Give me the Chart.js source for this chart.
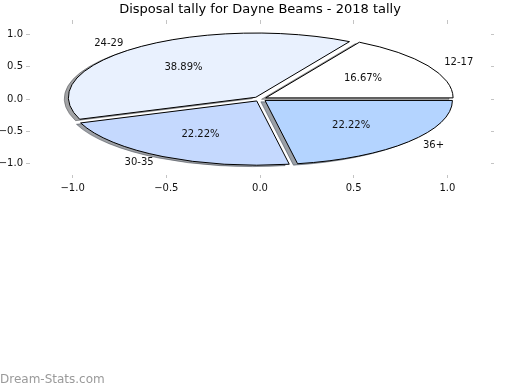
<!DOCTYPE html>
<html lang="en">
<head>
<meta charset="UTF-8">
<title>Disposal tally for Dayne Beams</title>
<script src="https://cdn.jsdelivr.net/npm/chart.js@4.4.1/dist/chart.umd.min.js"></script>
<style>
  body { margin: 0; background: #ffffff; }
</style>
</head>
<body>
<canvas id="chartPie" width="520" height="390"></canvas>
<script>
  // data
  var ageGroups = ["12-17", "24-29", "30-35", "36+"];
  var disposalCounts = [3, 7, 4, 4];
  var xTickValues = [-1, -0.5, 0, 0.5, 1];
  var yTickValues = [-1, -0.5, 0, 0.5, 1];

  // styles
  var sliceColours = ["#ffffff", "#e9f1fe", "#c5d9fe", "#b4d4ff"];
  var explode = 0.035;
  var shadowOff = -0.022;
  var baseFont = '"DejaVu Sans", Verdana, sans-serif';

  function tickText(v) {
    return (v < 0 ? "\u2212" : "") + Math.abs(v).toFixed(1);
  }

  function rgbOf(hex) {
    var n = parseInt(hex.slice(1), 16);
    return [(n >> 16) & 255, (n >> 8) & 255, n & 255];
  }

  // ellipse wedge, centre and angles in data units
  function wedgePath(ctx, xs, ys, cx, cy, a0, a1) {
    var px = xs.getPixelForValue(cx), py = ys.getPixelForValue(cy);
    var rx = xs.getPixelForValue(cx + 1) - px;
    var ry = py - ys.getPixelForValue(cy + 1);
    ctx.beginPath();
    ctx.moveTo(px, py);
    ctx.ellipse(px, py, rx, ry, 0, -a0, -a1, true);
    ctx.closePath();
  }

  function sliceList() {
    var total = disposalCounts.reduce(function (a, b) { return a + b; }, 0);
    var start = 0, out = [];
    for (var i = 0; i < disposalCounts.length; i++) {
      var frac = disposalCounts[i] / total;
      var a0 = start * 2 * Math.PI, a1 = (start + frac) * 2 * Math.PI;
      var mid = (a0 + a1) / 2;
      out.push({
        a0: a0, a1: a1, mid: mid, frac: frac,
        cx: explode * Math.cos(mid), cy: explode * Math.sin(mid)
      });
      start += frac;
    }
    return out;
  }

  const piePlugin = {
    id: "ellipsePie",
    afterDatasetsDraw(chart) {
      var ctx = chart.ctx, xs = chart.scales.x, ys = chart.scales.y;
      var s = sliceList();
      ctx.save();
      ctx.lineWidth = 1;
      ctx.lineJoin = "miter";
      // shadows first, under every wedge
      s.forEach(function (w, i) {
        var c = rgbOf(sliceColours[i]).map(function (k) { return Math.round(k * 0.3); });
        var col = "rgba(" + c.join(",") + ",0.5)";
        wedgePath(ctx, xs, ys, w.cx + shadowOff, w.cy + shadowOff, w.a0, w.a1);
        ctx.fillStyle = col;
        ctx.fill();
        ctx.strokeStyle = col;
        ctx.stroke();
      });
      s.forEach(function (w, i) {
        wedgePath(ctx, xs, ys, w.cx, w.cy, w.a0, w.a1);
        ctx.fillStyle = sliceColours[i];
        ctx.fill();
        ctx.strokeStyle = "#000000";
        ctx.stroke();
      });
      // labels and percentages
      ctx.font = "10px " + baseFont;
      ctx.fillStyle = "#111111";
      ctx.textBaseline = "middle";
      s.forEach(function (w, i) {
        var lx = w.cx + 1.1 * Math.cos(w.mid), ly = w.cy + 1.1 * Math.sin(w.mid);
        ctx.textAlign = lx > 0 ? "left" : "right";
        ctx.fillText(ageGroups[i], xs.getPixelForValue(lx), ys.getPixelForValue(ly));
        var tx = w.cx + 0.6 * Math.cos(w.mid), ty = w.cy + 0.6 * Math.sin(w.mid);
        ctx.textAlign = "center";
        ctx.fillText((w.frac * 100).toFixed(2) + "%", xs.getPixelForValue(tx), ys.getPixelForValue(ty));
      });
      ctx.restore();
    },
    afterDraw(chart) {
      var ctx = chart.ctx;
      ctx.save();
      ctx.font = "12px " + baseFont;
      ctx.fillStyle = "#9a9a9a";
      ctx.textAlign = "left";
      ctx.textBaseline = "middle";
      ctx.fillText("Dream-Stats.com", 0, 380);
      ctx.restore();
    }
  };

  function axisGrid() {
    return {
      display: true,
      drawOnChartArea: false,
      drawTicks: true,
      tickLength: 3.5,
      color: "#c4c4c4",
      lineWidth: 1
    };
  }

  const ctx = document.getElementById("chartPie").getContext("2d");
  const chart = new Chart(ctx, {
    type: "scatter",
    data: { datasets: [] },
    plugins: [piePlugin],
    options: {
      responsive: false,
      animation: false,
      devicePixelRatio: 1,
      layout: { padding: 0 },
      plugins: {
        legend: { display: false },
        tooltip: { enabled: false },
        title: {
          display: true,
          text: "Disposal tally for Dayne Beams - 2018 tally",
          color: "#000000",
          font: { family: baseFont, size: 13, weight: "normal", lineHeight: 1.2 },
          padding: { top: 2, bottom: 0 }
        }
      },
      scales: {
        x: {
          type: "linear", position: "bottom", min: -1.23, max: 1.23,
          afterBuildTicks: function (axis) { axis.ticks = xTickValues.map(function (v) { return { value: v }; }); },
          afterFit: function (axis) { axis.height = 215.5; },
          grid: axisGrid(),
          border: { display: false },
          ticks: { callback: tickText, padding: 4, color: "#111111", font: { family: baseFont, size: 10 }, maxRotation: 0 }
        },
        x2: {
          type: "linear", axis: "x", position: "top", min: -1.23, max: 1.23,
          afterBuildTicks: function (axis) { axis.ticks = xTickValues.map(function (v) { return { value: v }; }); },
          afterFit: function (axis) { axis.height = 5.9; },
          grid: axisGrid(),
          border: { display: false },
          ticks: { display: false }
        },
        y: {
          type: "linear", position: "left", min: -1.175, max: 1.175,
          afterBuildTicks: function (axis) { axis.ticks = yTickValues.map(function (v) { return { value: v }; }); },
          afterFit: function (axis) { axis.width = 29.5; },
          grid: axisGrid(),
          border: { display: false },
          ticks: { callback: tickText, padding: 3, color: "#111111", font: { family: baseFont, size: 10 } }
        },
        y2: {
          type: "linear", axis: "y", position: "right", min: -1.175, max: 1.175,
          afterBuildTicks: function (axis) { axis.ticks = yTickValues.map(function (v) { return { value: v }; }); },
          afterFit: function (axis) { axis.width = 29.5; },
          grid: axisGrid(),
          border: { display: false },
          ticks: { display: false }
        }
      }
    }
  });
</script>
</body>
</html>
